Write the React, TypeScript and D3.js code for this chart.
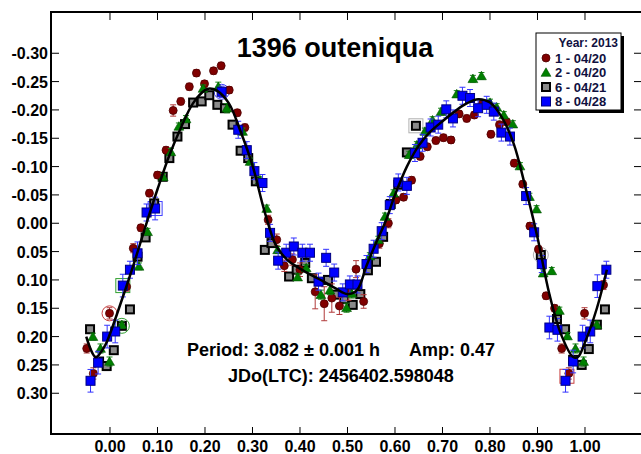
import React from 'react';
import * as d3 from 'd3';

// ---- data ----
const xTicks = [0, 0.1, 0.2, 0.3, 0.4, 0.5, 0.6, 0.7, 0.8, 0.9, 1.0];
const yTicks = [-0.3, -0.25, -0.2, -0.15, -0.1, -0.05, 0, 0.05, 0.1, 0.15, 0.2, 0.25, 0.3];

const title = '1396 outeniqua';
const periodText = 'Period: 3.082 \u00b1 0.001 h';
const ampText = 'Amp: 0.47';
const jdText = 'JDo(LTC): 2456402.598048';
const legendTitle = 'Year: 2013';
const legendLabels = ['1 - 04/20', '2 - 04/20', '6 - 04/21', '8 - 04/28'];

// [phase, reduced magnitude, error]
const session1 = [
  [-0.049, 0.221, 0.008], [-0.035, 0.265, 0.01], [-0.001, 0.159, 0.01], [0.035, 0.112, 0.008],
  [0.049, 0.044, 0.008], [0.065, 0.008, 0.006], [0.083, -0.053, 0.006], [0.1, -0.085, 0.006],
  [0.118, -0.129, 0.006], [0.133, -0.199, 0.01], [0.149, -0.215, 0.006], [0.167, -0.241, 0.006],
  [0.182, -0.265, 0.006], [0.199, -0.246, 0.006], [0.218, -0.269, 0.006], [0.234, -0.278, 0.006],
  [0.251, -0.235, 0.006], [0.268, -0.195, 0.006], [0.284, -0.169, 0.006], [0.333, -0.006, 0.008],
  [0.351, 0.029, 0.01], [0.367, 0.075, 0.01], [0.384, 0.064, 0.01], [0.4, 0.082, 0.012],
  [0.432, 0.121, 0.03], [0.451, 0.142, 0.03], [0.467, 0.132, 0.025], [0.483, 0.146, 0.015],
  [0.502, 0.121, 0.015], [0.518, 0.081, 0.015], [0.534, 0.138, 0.012], [0.567, 0.036, 0.008],
  [0.586, 0.0, 0.008], [0.602, -0.041, 0.006], [0.618, -0.046, 0.006], [0.635, -0.076, 0.006],
  [0.653, -0.118, 0.006], [0.668, -0.135, 0.006], [0.686, -0.146, 0.006], [0.702, -0.151, 0.006],
  [0.718, -0.147, 0.006], [0.735, -0.193, 0.006], [0.751, -0.185, 0.006], [0.767, -0.191, 0.006],
  [0.784, -0.211, 0.006], [0.802, -0.157, 0.006], [0.82, -0.174, 0.006], [0.835, -0.179, 0.006],
  [0.851, -0.106, 0.006], [0.869, -0.069, 0.006], [0.884, 0.005, 0.006], [0.902, 0.046, 0.006],
  [0.918, 0.128, 0.006], [0.936, 0.15, 0.006], [0.951, 0.221, 0.008], [0.966, 0.265, 0.01],
  [0.999, 0.159, 0.01], [1.039, 0.109, 0.008],
];

const session2 = [
  [-0.036, 0.2, 0.006], [-0.02, 0.221, 0.008], [-0.001, 0.244, 0.008], [0.025, 0.179, 0.006],
  [0.061, 0.076, 0.006], [0.079, 0.015, 0.006], [0.112, -0.082, 0.006], [0.128, -0.126, 0.006],
  [0.145, -0.171, 0.006], [0.16, -0.184, 0.006], [0.196, -0.238, 0.006], [0.228, -0.241, 0.008],
  [0.246, -0.203, 0.008], [0.279, -0.162, 0.006], [0.295, -0.109, 0.006], [0.316, -0.076, 0.006],
  [0.33, -0.026, 0.006], [0.353, 0.047, 0.006], [0.395, 0.095, 0.006], [0.413, 0.079, 0.006],
  [0.444, 0.126, 0.008], [0.463, 0.118, 0.008], [0.498, 0.149, 0.008], [0.509, 0.124, 0.008],
  [0.547, 0.058, 0.006], [0.565, 0.029, 0.006], [0.579, -0.012, 0.006], [0.597, -0.053, 0.006],
  [0.63, -0.121, 0.006], [0.646, -0.138, 0.006], [0.663, -0.162, 0.006], [0.679, -0.182, 0.006],
  [0.697, -0.197, 0.006], [0.73, -0.228, 0.006], [0.764, -0.255, 0.006], [0.782, -0.26, 0.006],
  [0.8, -0.213, 0.006], [0.814, -0.205, 0.006], [0.829, -0.191, 0.006], [0.848, -0.175, 0.006],
  [0.863, -0.101, 0.006], [0.883, -0.047, 0.006], [0.898, -0.025, 0.006], [0.912, 0.088, 0.006],
  [0.93, 0.084, 0.006], [0.946, 0.154, 0.006], [0.963, 0.199, 0.006], [0.98, 0.221, 0.008],
  [0.997, 0.244, 0.008], [1.025, 0.179, 0.006],
];

const session6 = [
  [-0.042, 0.187, 0.006], [-0.023, 0.244, 0.006], [-0.007, 0.252, 0.008], [0.008, 0.224, 0.006],
  [0.025, 0.181, 0.006], [0.042, 0.152, 0.006], [0.058, 0.059, 0.006], [0.075, 0.025, 0.006],
  [0.093, -0.035, 0.006], [0.111, -0.082, 0.006], [0.125, -0.115, 0.006], [0.142, -0.153, 0.006],
  [0.158, -0.175, 0.006], [0.175, -0.213, 0.006], [0.193, -0.215, 0.006], [0.209, -0.226, 0.006],
  [0.226, -0.209, 0.006], [0.242, -0.203, 0.006], [0.258, -0.174, 0.006], [0.275, -0.128, 0.006],
  [0.291, -0.115, 0.006], [0.307, -0.074, 0.006], [0.326, 0.047, 0.006], [0.34, 0.035, 0.006],
  [0.377, 0.094, 0.006], [0.393, 0.082, 0.006], [0.411, 0.07, 0.006], [0.425, 0.097, 0.006],
  [0.459, 0.1, 0.006], [0.475, 0.126, 0.006], [0.493, 0.134, 0.006], [0.511, 0.144, 0.006],
  [0.527, 0.125, 0.006], [0.543, 0.083, 0.006], [0.56, 0.068, 0.006], [0.575, 0.024, 0.006],
  [0.591, -0.034, 0.006], [0.607, -0.068, 0.006], [0.625, -0.125, 0.006], [0.644, -0.172, 0.006],
  [0.907, 0.056, 0.006], [0.941, 0.169, 0.006], [0.958, 0.187, 0.006], [0.975, 0.241, 0.006],
  [0.993, 0.25, 0.008], [1.008, 0.222, 0.006], [1.025, 0.179, 0.006], [1.042, 0.152, 0.006],
];

const session8 = [
  [-0.041, 0.278, 0.02], [-0.025, 0.246, 0.02], [-0.006, 0.2, 0.02], [0.011, 0.191, 0.02],
  [0.027, 0.11, 0.02], [0.042, 0.082, 0.015], [0.058, 0.053, 0.02], [0.077, -0.019, 0.015],
  [0.095, -0.026, 0.02], [0.235, -0.232, 0.01], [0.27, -0.165, 0.015], [0.288, -0.129, 0.015],
  [0.304, -0.092, 0.015], [0.321, -0.071, 0.015], [0.337, 0.017, 0.015], [0.354, 0.066, 0.015],
  [0.371, 0.052, 0.015], [0.387, 0.041, 0.015], [0.405, 0.052, 0.015], [0.421, 0.052, 0.015],
  [0.439, 0.103, 0.015], [0.455, 0.061, 0.015], [0.472, 0.087, 0.015], [0.49, 0.122, 0.015],
  [0.505, 0.108, 0.015], [0.521, 0.108, 0.015], [0.54, 0.072, 0.015], [0.555, 0.045, 0.015],
  [0.572, 0.014, 0.015], [0.589, -0.032, 0.015], [0.607, -0.072, 0.015], [0.625, -0.066, 0.015],
  [0.642, -0.124, 0.015], [0.658, -0.142, 0.015], [0.675, -0.169, 0.015], [0.691, -0.174, 0.015],
  [0.708, -0.201, 0.015], [0.722, -0.185, 0.015], [0.742, -0.225, 0.015], [0.758, -0.221, 0.015],
  [0.775, -0.203, 0.015], [0.793, -0.209, 0.015], [0.808, -0.197, 0.015], [0.824, -0.16, 0.015],
  [0.842, -0.153, 0.015], [0.876, -0.048, 0.015], [0.893, 0.016, 0.015], [0.909, 0.072, 0.015],
  [0.925, 0.184, 0.02], [0.942, 0.188, 0.02], [0.959, 0.278, 0.02], [0.975, 0.244, 0.02],
  [0.995, 0.2, 0.02], [1.011, 0.191, 0.02], [1.026, 0.111, 0.02], [1.045, 0.082, 0.015],
];

// Fourier fit curve: [phase, mag]
const fitCurve = [
  [-0.05, 0.2], [-0.03, 0.236], [-0.01, 0.215], [0.0, 0.195], [0.025, 0.135], [0.05, 0.072],
  [0.075, 0.005], [0.1, -0.06], [0.125, -0.12], [0.15, -0.17], [0.175, -0.212], [0.2, -0.235],
  [0.21, -0.238], [0.225, -0.234], [0.25, -0.212], [0.275, -0.162], [0.3, -0.102], [0.325, -0.022],
  [0.35, 0.04], [0.375, 0.066], [0.4, 0.08], [0.425, 0.092], [0.45, 0.103], [0.475, 0.115],
  [0.5, 0.125], [0.52, 0.118], [0.54, 0.075], [0.56, 0.035], [0.58, -0.003], [0.6, -0.05],
  [0.625, -0.1], [0.65, -0.137], [0.675, -0.162], [0.7, -0.18], [0.725, -0.197], [0.75, -0.211],
  [0.775, -0.219], [0.8, -0.213], [0.825, -0.187], [0.85, -0.14], [0.875, -0.062], [0.9, 0.025],
  [0.925, 0.125], [0.95, 0.197], [0.975, 0.236], [0.985, 0.236], [1.0, 0.21], [1.025, 0.15],
  [1.046, 0.082],
];

// first-point-of-session highlight marks: [phase, mag, shape, session]
const highlights = [
  [-0.001, 0.159, 'circle', 0],
  [0.027, 0.11, 'square', 1],
  [0.025, 0.181, 'circle', 1],
  [0.095, -0.026, 'square', 3],
  [0.235, -0.232, 'circle', 3],
  [0.644, -0.172, 'square', 2],
  [0.907, 0.056, 'circle', 2],
  [0.962, 0.27, 'square', 0],
];

const W = 641;
const H = 454;
const FONT = '"Liberation Sans", Arial, Helvetica, sans-serif';

const sessionStyles = [
  { fill: '#800000', stroke: '#4a0000', err: '#b03a3a', hl: '#c84040' },
  { fill: '#008000', stroke: '#005000', err: '#1a8a1a', hl: '#30a030' },
  { fill: '#8a8a8a', stroke: '#000000', err: '#999999', hl: '#b0b0b0' },
  { fill: '#0000ff', stroke: '#000080', err: '#3333ff', hl: '#4040ff' },
];

function Marker({ kind, cx, cy }: { kind: number; cx: number; cy: number }) {
  const st = sessionStyles[kind];
  if (kind === 0) return <circle cx={cx} cy={cy} r={4} fill={st.fill} stroke={st.stroke} strokeWidth={0.8} />;
  if (kind === 1) {
    const p = d3.symbol().type(d3.symbolTriangle).size(42)();
    return <path d={p || ''} transform={`translate(${cx},${cy + 1})`} fill={st.fill} stroke={st.stroke} strokeWidth={0.6} />;
  }
  if (kind === 2) return <rect x={cx - 4} y={cy - 4} width={8} height={8} fill={st.fill} stroke={st.stroke} strokeWidth={2} />;
  return <rect x={cx - 4.5} y={cy - 4.5} width={9} height={9} fill={st.fill} stroke={st.stroke} strokeWidth={1} />;
}

export default function App() {
  const x = d3.scaleLinear().domain([-0.1242, 1.1179]).range([51, 641]);
  const y = d3.scaleLinear().domain([-0.3728, 0.3719]).range([12, 434]);
  const line = d3
    .line<number[]>()
    .x((d) => x(d[0]))
    .y((d) => y(d[1]))
    .curve(d3.curveCatmullRom.alpha(0.5));

  const sessions = [session6, session1, session2, session8];
  const sessionKinds = [2, 0, 1, 3];

  const left = x.range()[0];
  const right = x.range()[1];
  const top = y.range()[0];
  const bottom = y.range()[1];

  return (
    <svg
      width={W}
      height={H}
      style={{ position: 'absolute', left: 0, top: 0, background: '#fff' }}
      fontFamily={FONT}
    >
      <rect x={0} y={0} width={W} height={H} fill="#fff" />

      {/* ticks */}
      {xTicks.map((t) => (
        <g key={'xt' + t}>
          <line x1={x(t)} x2={x(t)} y1={top} y2={top + 8} stroke="#000" strokeWidth={1} />
          <line x1={x(t)} x2={x(t)} y1={bottom} y2={bottom - 7} stroke="#000" strokeWidth={1} />
          <text x={x(t)} y={452} textAnchor="middle" fontSize={16} fontWeight="bold" fill="#000">
            {t.toFixed(2)}
          </text>
        </g>
      ))}
      {yTicks.map((t) => (
        <g key={'yt' + t}>
          <line x1={left} x2={left + 8} y1={y(t)} y2={y(t)} stroke="#000" strokeWidth={1} />
          <line x1={right - 7} x2={right} y1={y(t)} y2={y(t)} stroke="#000" strokeWidth={1} />
          <text x={48} y={y(t) + 6} textAnchor="end" fontSize={16} fontWeight="bold" fill="#000">
            {t.toFixed(2)}
          </text>
        </g>
      ))}

      {/* frame */}
      <line x1={left} x2={left} y1={top - 1} y2={bottom + 1} stroke="#000" strokeWidth={2} />
      <line x1={left} x2={right} y1={top} y2={top} stroke="#000" strokeWidth={2} />
      <line x1={left} x2={right} y1={bottom} y2={bottom} stroke="#000" strokeWidth={2} />

      {/* highlights */}
      {highlights.map((h, i) => {
        const cx = x(h[0] as number);
        const cy = y(h[1] as number);
        const col = sessionStyles[h[3] as number].hl;
        return h[2] === 'circle' ? (
          <circle key={'h' + i} cx={cx} cy={cy} r={7.5} fill="none" stroke={col} strokeWidth={1} />
        ) : (
          <rect key={'h' + i} x={cx - 7} y={cy - 7} width={14} height={14} fill="none" stroke={col} strokeWidth={1} />
        );
      })}

      {/* data */}
      {sessions.map((ser, si) => {
        const kind = sessionKinds[si];
        const st = sessionStyles[kind];
        return (
          <g key={'s' + si}>
            {ser.map((d, i) => {
              const cx = x(d[0]);
              const y1 = y(d[1] - d[2]);
              const y2 = y(d[1] + d[2]);
              return (
                <g key={'e' + i} stroke={st.err} strokeWidth={1}>
                  <line x1={cx} x2={cx} y1={y1} y2={y2} />
                  <line x1={cx - 3} x2={cx + 3} y1={y1} y2={y1} />
                  <line x1={cx - 3} x2={cx + 3} y1={y2} y2={y2} />
                </g>
              );
            })}
            {ser.map((d, i) => (
              <Marker key={'m' + i} kind={kind} cx={x(d[0])} cy={y(d[1])} />
            ))}
          </g>
        );
      })}

      {/* fit curve */}
      <path d={line(fitCurve) || ''} fill="none" stroke="#000" strokeWidth={2.5} />

      {/* title and annotations */}
      <text x={335} y={57} textAnchor="middle" fontSize={27} fontWeight="bold" fill="#000">
        {title}
      </text>
      <text x={187} y={356} fontSize={18} fontWeight="bold" fill="#000">
        {periodText}
      </text>
      <text x={409} y={356} fontSize={18} fontWeight="bold" fill="#000">
        {ampText}
      </text>
      <text x={228} y={382} fontSize={18} fontWeight="bold" fill="#000">
        {jdText}
      </text>

      {/* legend */}
      <g>
        <rect x={539} y={36} width={85} height={77} fill="#000" />
        <rect x={536} y={33} width={85} height={77} fill="#fff" stroke="#000" strokeWidth={1} />
        <text x={618} y={47} textAnchor="end" fontSize={12} fontWeight="bold" fill="#101040">
          {legendTitle}
        </text>
        {legendLabels.map((lab, i) => {
          const cy = 58 + i * 14.5;
          return (
            <g key={'lg' + i}>
              <Marker kind={i} cx={546} cy={cy} />
              <text x={555} y={cy + 4.5} fontSize={13} fontWeight="bold" fill="#101040">
                {lab}
              </text>
            </g>
          );
        })}
      </g>
    </svg>
  );
}
